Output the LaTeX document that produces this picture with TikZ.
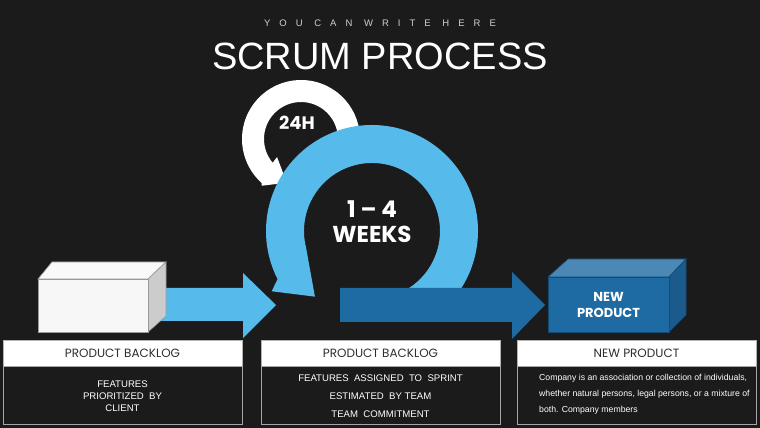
\documentclass[tikz,border=0pt]{standalone}
\usepackage{fontspec}
\setmainfont{Liberation Sans}
\newfontfamily\pop{Poppins}
\usetikzlibrary{calc}
\definecolor{bg}{HTML}{1B1B1B}
\definecolor{lblue}{HTML}{56BBEA}
\definecolor{dblue}{HTML}{1E6AA2}
\definecolor{boxtop}{HTML}{4B88B5}
\definecolor{boxside}{HTML}{1A5B8C}
\definecolor{boxline}{HTML}{154A72}
\definecolor{hdrtext}{HTML}{2E2E2E}
\definecolor{subtitle}{HTML}{D0D0D0}
\tikzset{
  hdr/.style={fill=white,draw=gray!60,line width=0.8pt},
  bodybox/.style={fill=bg,draw=gray!70,line width=0.8pt},
  hdrtxt/.style={text=hdrtext,font=\pop\fontsize{12}{14}\selectfont},
  bodytxt/.style={text=white,font=\fontsize{9.6}{12}\selectfont,align=center},
}
\begin{document}
\begin{tikzpicture}[x=1pt,y=1pt]
\fill[bg] (0,0) rectangle (760,428);
\useasboundingbox (0,0) rectangle (760,428);

% titles
\node[text=subtitle,font=\addfontfeature{LetterSpace=95}\fontsize{9.5}{11}\selectfont] (sub) at (380,405) {YOU CAN WRITE HERE};
\node[text=white,font=\fontsize{38}{42}\selectfont] (title) at (380,372) {SCRUM PROCESS};

% white 24H circular arrow
\coordinate (wc) at (301,289);
\fill[white] ($(wc)+(-15:59pt)$) arc[start angle=-15,end angle=228,radius=59pt]
  -- ($(wc)+(230:61pt)$) -- ($(wc)+(252:46pt)$) -- ($(wc)+(217:30pt)$)
  -- ($(wc)+(220:37pt)$) arc[start angle=220,end angle=-15,radius=37pt] -- cycle;
\node[text=white,font=\pop\bfseries\fontsize{18}{20}\selectfont] (h24) at (297,305) {24H};

% blue 1-4 weeks circular arrow
\coordinate (bc) at (372,197);
\fill[lblue] ($(bc)+(-58:106pt)$) arc[start angle=-58,end angle=207,radius=106pt]
  -- ($(bc)+(211:117pt)$) -- ($(bc)+(229:87pt)$) -- ($(bc)+(194:68pt)$)
  arc[start angle=194,end angle=-58,radius=68pt] -- cycle;
\node[text=white,font=\pop\bfseries\fontsize{23}{25}\selectfont,align=center] (weeks) at (372,206) {1 – 4\\WEEKS};

% light blue straight arrow
\fill[lblue] (160,140) -- (243,140) -- (243,155) -- (276,123) -- (243,90) -- (243,107) -- (160,107) -- cycle;

% white box
\fill[white!95!gray,draw=gray!80,line width=0.6pt] (38,149) -- (148,149) -- (166,166) -- (52,166) -- cycle;
\fill[gray!40,draw=gray!80,line width=0.6pt] (148,149) -- (166,166) -- (166,112) -- (148,96) -- cycle;
\node[fill=white!94!gray,draw=gray!80,line width=0.6pt,minimum width=110pt,minimum height=53pt,inner sep=0pt] (wbox) at (93,122.5) {};

% dark blue straight arrow
\fill[dblue] (340,140) -- (512,140) -- (512,156) -- (545,123) -- (512,89) -- (512,106) -- (340,106) -- cycle;

% new product box
\fill[boxtop,draw=boxline,line width=0.6pt] (548,151) -- (669,151) -- (686,169) -- (568,169) -- cycle;
\fill[boxside,draw=boxline,line width=0.6pt] (669,151) -- (686,169) -- (686,113) -- (669,96) -- cycle;
\node[fill=dblue,draw=boxline,line width=0.6pt,minimum width=121pt,minimum height=55pt,inner sep=0pt,
  text=white,font=\pop\bfseries\fontsize{13}{16}\selectfont,align=center] (nbox) at (608.5,123.5) {NEW\\PRODUCT};

% panels
\node[hdr,minimum width=239pt,minimum height=26pt,inner sep=0pt] (h1) at (122.5,75) {};
\node[hdr,minimum width=239pt,minimum height=26pt,inner sep=0pt] (h2) at (380.5,75) {};
\node[hdr,minimum width=239pt,minimum height=26pt,inner sep=0pt] (h3) at (636.5,75) {};
\node[bodybox,minimum width=239pt,minimum height=58pt,inner sep=0pt] (b1) at (122.5,33) {};
\node[bodybox,minimum width=239pt,minimum height=58pt,inner sep=0pt] (b2) at (380.5,33) {};
\node[bodybox,minimum width=239pt,minimum height=58pt,inner sep=0pt] (b3) at (636.5,33) {};

\node[hdrtxt] (t1) at (h1) {PRODUCT BACKLOG};
\node[hdrtxt] (t2) at (h2) {PRODUCT BACKLOG};
\node[hdrtxt] (t3) at (h3) {NEW PRODUCT};

\node[bodytxt] (x1) at (122.5,32) {FEATURES\\PRIORITIZED\ \ BY\\CLIENT};
\node[bodytxt,font=\fontsize{9.6}{18}\selectfont] (x2) at (380.5,32) {FEATURES\ \ ASSIGNED\ \ TO\ \ SPRINT\\ESTIMATED\ \ BY TEAM\\TEAM\ \ COMMITMENT};
\node[text=white,font=\fontsize{8.7}{16}\selectfont,align=left,anchor=west,inner sep=0pt] (x3) at (539,34) {Company is an association or collection of individuals,\\whether natural persons, legal persons, or a mixture of\\both. Company members};
\end{tikzpicture}
\end{document}
